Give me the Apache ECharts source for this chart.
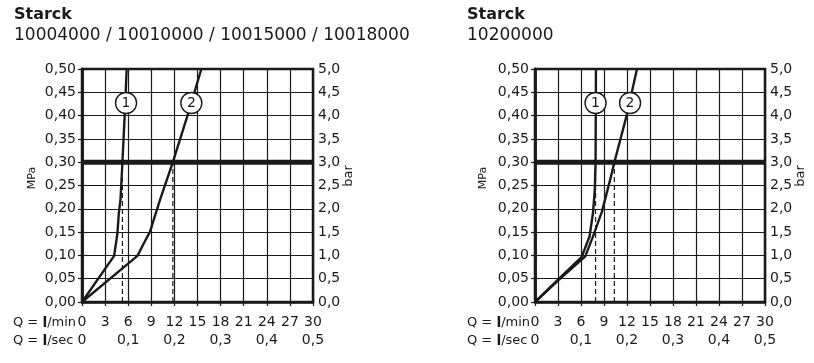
<!DOCTYPE html>
<html><head><meta charset="utf-8">
<script src="https://cdn.jsdelivr.net/npm/echarts@6/dist/echarts.min.js"></script>
<style>html,body{margin:0;padding:0;background:#fff}#c{width:814px;height:363px}</style>
</head><body><div id="c"></div>
<script>
// ---- data ----
const titleMain = 'Starck';
const subLeft = '10004000 / 10010000 / 10015000 / 10018000';
const subRight = '10200000';
// left chart curves [l/min, MPa]
const curve1Left = [[0,0],[4.17,0.099],[4.6,0.147],[4.78,0.19],[5.0,0.22],[5.25,0.30],[5.6,0.42],[5.8,0.50]];
const curve2Left = [[0,0],[7.2,0.099],[8.0,0.125],[8.83,0.151],[10.13,0.219],[11.8,0.30],[13.7,0.40],[15.5,0.50]];
const dashLeft = [5.25, 11.8];
const circlesLeft = [[5.72,0.427,'1'],[14.2,0.427,'2']];
// right chart curves
const curve1Right = [[0,0],[3,0.048],[6.1,0.097],[7.12,0.141],[7.56,0.191],[7.8,0.24],[7.9,0.30],[7.95,0.50]];
const curve2Right = [[0,0],[3,0.046],[6.56,0.098],[7.64,0.144],[8.73,0.194],[9.8,0.262],[10.35,0.30],[11.95,0.40],[13.3,0.50]];
const dashRight = [7.9, 10.35];
const circlesRight = [[7.9,0.427,'1'],[12.4,0.427,'2']];
const refPressure = 0.30;
// ticks
const xMin = 0, xMax = 30, xStep = 3, xSecStep = 6;
const yMin = 0, yMax = 0.5, yStep = 0.05;
const barMax = 5, barStep = 0.5;

const INK = '#1a1a1a';
const FONT = 'DejaVu Sans';
const comma = (v, d) => v.toFixed(d).replace('.', ',');

const grids = [
  {left: 82, top: 69, width: 231, height: 233},
  {left: 535, top: 69, width: 230, height: 233}
];

function xAxes(gi) {
  return [
    {gridIndex: gi, type: 'value', min: xMin, max: xMax, interval: xStep, position: 'bottom',
     axisLine: {show: true, lineStyle: {color: INK, width: 2.5}},
     axisTick: {show: true, length: 4, lineStyle: {color: INK, width: 1.2}},
     splitLine: {show: true, lineStyle: {color: INK, width: 1.2}},
     axisLabel: {show: true, margin: 13, color: INK, fontFamily: FONT, fontSize: 14, showMinLabel: true, showMaxLabel: true, hideOverlap: false,
       formatter: v => String(v)}},
    {gridIndex: gi, type: 'value', min: xMin, max: xMax, interval: xSecStep, position: 'bottom', offset: 18,
     axisLine: {show: false}, axisTick: {show: false}, splitLine: {show: false},
     axisLabel: {show: true, margin: 13, color: INK, fontFamily: FONT, fontSize: 14, showMinLabel: true, showMaxLabel: true, hideOverlap: false,
       formatter: v => v === 0 ? '0' : comma(v / 60, 1)}}
  ];
}
function yAxes(gi) {
  return [
    {gridIndex: gi, type: 'value', min: yMin, max: yMax, interval: yStep, position: 'left',
     axisLine: {show: true, lineStyle: {color: INK, width: 2.5}},
     axisTick: {show: true, length: 4, lineStyle: {color: INK, width: 1.2}},
     splitLine: {show: true, lineStyle: {color: INK, width: 1.2}},
     axisLabel: {margin: 6, color: INK, fontFamily: FONT, fontSize: 14, showMinLabel: true, showMaxLabel: true, hideOverlap: false,
       formatter: v => comma(v, 2)}},
    {gridIndex: gi, type: 'value', min: 0, max: barMax, interval: barStep, position: 'right',
     axisLine: {show: true, lineStyle: {color: INK, width: 2.5}},
     axisTick: {show: true, length: 4, lineStyle: {color: INK, width: 1.2}},
     splitLine: {show: false},
     axisLabel: {margin: 5, color: INK, fontFamily: FONT, fontSize: 14, showMinLabel: true, showMaxLabel: true, hideOverlap: false,
       formatter: v => comma(v, 1)}}
  ];
}

function chartSeries(gi, c1, c2, dashes, circles) {
  const xi = gi * 2, yi = gi * 2;
  const s = [];
  dashes.forEach(x => s.push({type: 'line', xAxisIndex: xi, yAxisIndex: yi, data: [[x, 0], [x, refPressure]],
    symbol: 'none', silent: true, z: 3, lineStyle: {color: INK, width: 1.2, type: [5, 3]}}));
  s.push({type: 'line', xAxisIndex: xi, yAxisIndex: yi, data: [[xMin, refPressure], [xMax, refPressure]],
    symbol: 'none', silent: true, z: 4, lineStyle: {color: INK, width: 5}});
  [c1, c2].forEach(c => s.push({type: 'line', xAxisIndex: xi, yAxisIndex: yi, data: c, symbol: 'none',
    smooth: false, z: 5, lineStyle: {color: INK, width: 2.4}}));
  s.push({type: 'scatter', xAxisIndex: xi, yAxisIndex: yi, z: 6, symbol: 'circle', symbolSize: 21,
    data: circles.map(c => ({value: [c[0], c[1]], name: c[2]})),
    itemStyle: {color: '#fff', borderColor: INK, borderWidth: 1.4, opacity: 1},
    label: {show: true, position: 'inside', formatter: p => p.name, color: INK, fontFamily: FONT, fontSize: 14}});
  return s;
}

const qText = (x, y, unit) => ({type: 'text', x: x, y: y, style: {
  text: 'Q = {b|l}/' + unit, align: 'left', verticalAlign: 'middle', fill: INK, font: '13px ' + FONT,
  rich: {b: {fontWeight: 'bold', fontSize: 14, fontFamily: FONT, fill: INK}}}});

const graphics = [];
[[14, subLeft, 13, 32, 349], [467, subRight, 467, 483, 801]].forEach(([tx, sub, qx, mx, bx]) => {
  graphics.push({type: 'text', x: tx, y: 15, style: {text: titleMain, font: 'bold 16px ' + FONT, fill: INK, verticalAlign: 'middle'}});
  graphics.push({type: 'text', x: tx, y: 36, style: {text: sub, font: '17px ' + FONT, fill: INK, verticalAlign: 'middle'}});
  graphics.push({type: 'text', x: mx, y: 178, rotation: Math.PI / 2, style: {text: 'MPa', font: '11px ' + FONT, fill: INK, align: 'center', verticalAlign: 'middle'}});
  graphics.push({type: 'text', x: bx, y: 176, rotation: Math.PI / 2, style: {text: 'bar', font: '13px ' + FONT, fill: INK, align: 'center', verticalAlign: 'middle'}});
  graphics.push(qText(qx, 323, 'min'));
  graphics.push(qText(qx, 341, 'sec'));
});

const chart = echarts.init(document.getElementById('c'), null, {renderer: 'canvas'});
chart.setOption({
  animation: false,
  backgroundColor: '#fff',
  grid: grids.map(g => Object.assign({show: true, borderColor: INK, borderWidth: 2.5, backgroundColor: 'transparent', containLabel: false, outerBoundsMode: 'none'}, g)),
  xAxis: [...xAxes(0), ...xAxes(1)],
  yAxis: [...yAxes(0), ...yAxes(1)],
  series: [...chartSeries(0, curve1Left, curve2Left, dashLeft, circlesLeft),
           ...chartSeries(1, curve1Right, curve2Right, dashRight, circlesRight)],
  graphic: graphics
});
</script></body></html>
